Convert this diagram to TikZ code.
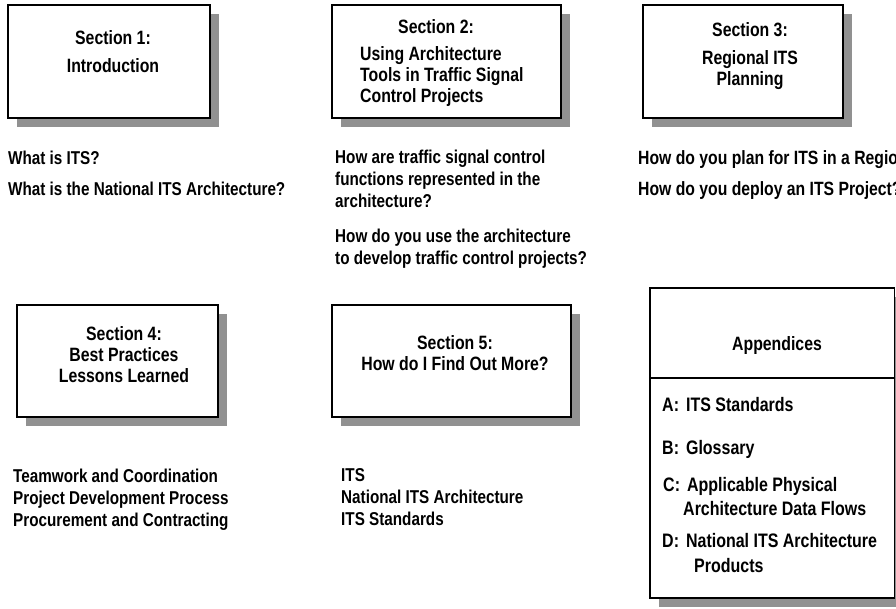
\documentclass[tikz,border=0pt]{standalone}
\usepackage{fontspec}
\setmainfont{Liberation Sans}[FakeStretch=0.82]
\usetikzlibrary{shadows}

\begin{document}
\begin{tikzpicture}[x=1pt, y=-1pt,
  secbox/.style={rectangle, draw, line width=1.2pt, fill=white, inner sep=0pt,
    drop shadow={shadow xshift=9pt, shadow yshift=-9pt, fill=black!43, opacity=1}},
  boxtext/.style={font=\fontsize{19.3}{21}\selectfont\bfseries, inner sep=0pt, anchor=base},
  qtext/.style={font=\fontsize{18.6}{22}\selectfont\bfseries, inner sep=0pt,
    align=left, anchor=base west},
  apptext/.style={qtext, font=\fontsize{19.5}{22}\selectfont\bfseries}]

\useasboundingbox (0,0) rectangle (896,608);

% top row
\node[secbox, minimum width=202pt, minimum height=113pt] (sec1) at (109,61.5) {};
\node[boxtext, align=center] (sec1txt) at (113,72) {Section 1:\\[7pt]Introduction};

\node[secbox, minimum width=229pt, minimum height=113pt] (sec2) at (446.5,61.5) {};
\node[boxtext, align=left, anchor=base west] (sec2txt) at (360,102.7)
  {\hspace*{38pt}Section 2:\\[6pt]Using Architecture\\Tools in Traffic Signal\\Control Projects};

\node[secbox, minimum width=200pt, minimum height=113pt] (sec3) at (743,61.5) {};
\node[boxtext, align=center] (sec3txt) at (750,85) {Section 3:\\[7pt]Regional ITS\\Planning};

\node[qtext] (q1) at (8,195) {What is ITS?\\[9pt]What is the National ITS Architecture?};
\node[qtext] (q2) at (335,264) {How are traffic signal control\\functions represented in the\\architecture?\\[13pt]How do you use the architecture\\to develop traffic control projects?};
\node[qtext, font=\fontsize{19.2}{22}\selectfont\bfseries] (q3) at (638,195)
  {How do you plan for ITS in a Region?\\[9pt]How do you deploy an ITS Project?};

% bottom row
\node[secbox, minimum width=201pt, minimum height=112pt] (sec4) at (117.5,361) {};
\node[boxtext, align=center] (sec4txt) at (124,382.7) {Section 4:\\Best Practices\\Lessons Learned};

\node[secbox, minimum width=239pt, minimum height=112pt] (sec5) at (451.5,361) {};
\node[boxtext, align=center] (sec5txt) at (455,370) {Section 5:\\How do I Find Out More?};

\node[qtext] (q4) at (13,526) {Teamwork and Coordination\\Project Development Process\\Procurement and Contracting};
\node[qtext] (q5) at (341,525) {ITS\\National ITS Architecture\\ITS Standards};

% appendices
\node[secbox, minimum width=244.5pt, minimum height=310pt] (appx) at (772.25,443) {};
\coordinate (divL) at (650,378);
\coordinate (divR) at (894.5,378);
\draw[line width=1.2pt] (divL) -- (divR);
\node[boxtext] (apptitle) at (777,350) {Appendices};
\node[apptext] (appA) at (662,411) {A:\hspace{7pt}ITS Standards};
\node[apptext] (appB) at (662,454) {B:\hspace{7pt}Glossary};
\node[apptext] (appC) at (663,515) {C:\hspace{7pt}Applicable Physical\\[1.3pt]\hspace*{20pt}Architecture Data Flows};
\node[apptext] (appD) at (662,572.7) {D:\hspace{7pt}National ITS Architecture\\[3pt]\hspace*{32pt}Products};

\end{tikzpicture}
\end{document}
